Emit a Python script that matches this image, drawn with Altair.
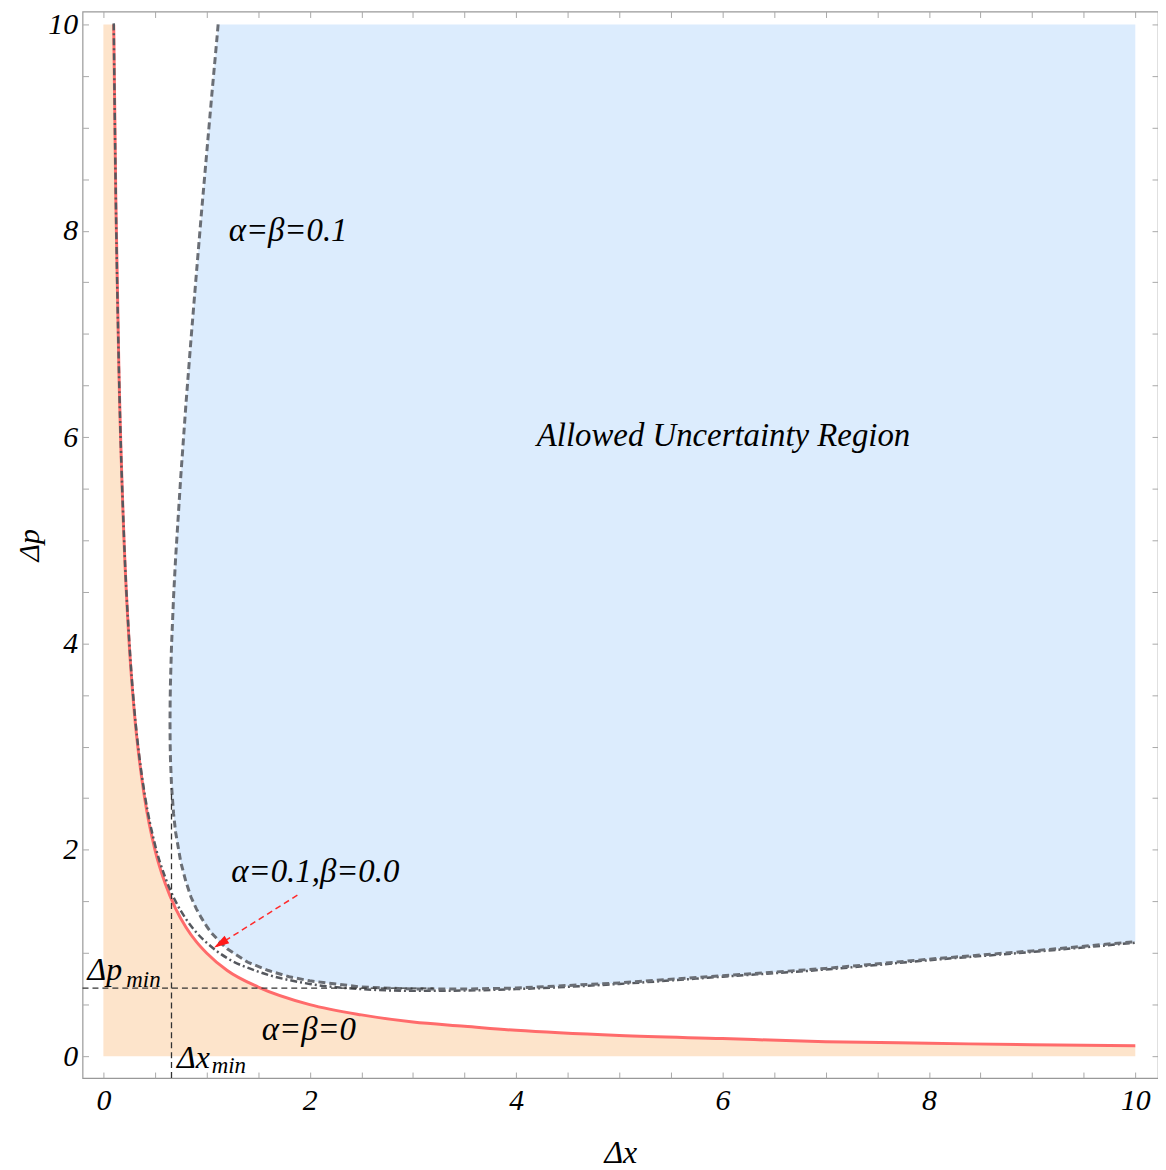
import altair as alt
import pandas as pd

# ---------------- data ----------------
tick_vals = [0, 0.5, 1, 1.5, 2, 2.5, 3, 3.5, 4, 4.5, 5, 5.5, 6, 6.5, 7, 7.5, 8, 8.5, 9, 9.5, 10]
x_domain = [-0.202, 10.22]
y_domain = [-0.212, 10.125]

# alpha = beta = 0 (red)
red_x = [0.1, 0.12, 0.15, 0.2, 0.25, 0.3, 0.35, 0.4, 0.5, 0.6, 0.7, 0.8, 0.9, 1.0, 1.2, 1.5,
         2, 2.5, 3, 3.5, 4, 5, 6, 7, 8, 9, 10]
red_y = [10, 8.33, 6.67, 5, 4, 3.33, 2.86, 2.5, 2, 1.67, 1.43, 1.25, 1.11, 1, 0.83, 0.67,
         0.5, 0.4, 0.33, 0.29, 0.25, 0.2, 0.17, 0.14, 0.125, 0.11, 0.1]

# shaded (forbidden) region under the red curve
orange_x = [0.0] + red_x
orange_y = [10.0] + red_y

# alpha = beta = 0.1 (allowed region boundary)
gup_x = [0.6456, 0.647, 0.65, 0.66, 0.68, 0.7, 0.75, 0.8, 0.85, 0.9, 0.95, 1.0, 1.05, 1.1, 1.112,
         1.2, 1.4, 1.6, 1.8, 2.0, 2.5, 3.0, 3.5, 4, 5, 6, 7, 8, 9, 10]
gup_lo = [3.23, 3.02, 2.88, 2.63, 2.35, 2.17, 1.88, 1.69, 1.54, 1.43, 1.34, 1.26, 1.19, 1.14, 1.12,
          1.04, 0.91, 0.83, 0.77, 0.73, 0.67, 0.65, 0.65, 0.66, 0.71, 0.78, 0.85, 0.94, 1.02, 1.11]
gup_hi = [3.23, 3.45, 3.62, 3.97, 4.45, 4.83, 5.62, 6.32, 6.96, 7.57, 8.17, 8.74, 9.31, 9.86, 10,
          10, 10, 10, 10, 10, 10, 10, 10, 10, 10, 10, 10, 10, 10, 10]
gup_top_x = 1.112  # where the upper branch leaves the plot

# alpha = 0.1, beta = 0.0 (dash-dot)
dd_x = [0.1, 0.12, 0.15, 0.2, 0.25, 0.3, 0.35, 0.4, 0.5, 0.6, 0.7, 0.8, 0.9, 1.0, 1.2, 1.5,
        2, 2.5, 3, 3.5, 4, 5, 6, 7, 8, 9, 10]
dd_y = [10.01, 8.35, 6.68, 5.02, 4.03, 3.36, 2.89, 2.54, 2.05, 1.73, 1.5, 1.33, 1.2, 1.1, 0.95, 0.82,
        0.7, 0.65, 0.633, 0.636, 0.65, 0.7, 0.77, 0.84, 0.93, 1.01, 1.1]

# minimum-uncertainty guide lines
dx_min = 0.66
dp_min = 0.66
vguide_top = 2.6
hguide_right = 3.2

# arrow (tail -> tip)
arrow_x = [1.88, 1.07]
arrow_y = [1.56, 1.05]
arrow_angle = 237.5

# annotations
lab_text = ["α=β=0.1", "Allowed Uncertainty Region", "α=0.1,β=0.0", "α=β=0", "Δp", "min", "Δx", "min"]
lab_x = [1.214, 4.20, 1.24, 1.535, -0.154, 0.222, 0.713, 1.05]
lab_y = [7.90, 5.91, 1.69, 0.157, 0.742, 0.672, -0.118, -0.162]
lab_size = [33, 33, 33, 33, 32, 23, 32, 23]

# ---------------- tables ----------------
df_orange = pd.DataFrame({"x": orange_x, "y": orange_y})
df_red = pd.DataFrame({"x": red_x, "y": red_y})
df_blue = pd.DataFrame({"x": gup_x, "lo": gup_lo, "hi": gup_hi})

bx, by = [], []
for xv, hv in reversed(list(zip(gup_x, gup_hi))):
    if xv <= gup_top_x:
        bx.append(xv); by.append(hv)
for xv, lv in list(zip(gup_x, gup_lo))[1:]:
    bx.append(xv); by.append(lv)
df_bound = pd.DataFrame({"x": bx, "y": by, "i": list(range(len(bx)))})
df_dd = pd.DataFrame({"x": dd_x, "y": dd_y})
df_guides = pd.DataFrame({
    "x": [dx_min, x_domain[0]], "x2": [dx_min, hguide_right],
    "y": [y_domain[0], dp_min], "y2": [vguide_top, dp_min]})
df_arrow = pd.DataFrame({"x": [arrow_x[0]], "y": [arrow_y[0]], "x2": [arrow_x[1]], "y2": [arrow_y[1]]})
df_head = pd.DataFrame({"x": [arrow_x[1]], "y": [arrow_y[1]]})
df_lab = pd.DataFrame({"t": lab_text, "x": lab_x, "y": lab_y, "s": lab_size})

FONT = "Liberation Serif"
xs = alt.Scale(domain=x_domain, nice=False, zero=False)
ys = alt.Scale(domain=y_domain, nice=False, zero=False)
TICK = "#a8a8a8"


def X(f="x", axis=None):
    return alt.X(f, type="quantitative", scale=xs, axis=axis)


def Y(f="y", axis=None):
    return alt.Y(f, type="quantitative", scale=ys, axis=axis)


label_expr = "datum.value % 2 === 0 ? format(datum.value, 'd') : ''"

axis_bottom = alt.Axis(orient="bottom", values=tick_vals, labelExpr=label_expr, offset=-6, tickSize=6,
                       domain=False, grid=False, tickColor=TICK, labelFont=FONT, labelFontStyle="italic",
                       labelFontSize=30, labelColor="black", labelPadding=8, labelFlush=False,
                       labelOverlap=False, title="Δx", titleFont=FONT, titleFontStyle="italic",
                       titleFontSize=32, titleFontWeight="normal", titleColor="black", titlePadding=22)
axis_left = alt.Axis(orient="left", values=tick_vals, labelExpr=label_expr, offset=-6, tickSize=6,
                     domain=False, grid=False, tickColor=TICK, labelFont=FONT, labelFontStyle="italic",
                     labelFontSize=30, labelColor="black", labelPadding=5, labelFlush=False,
                     labelOverlap=False, title="Δp", titleFont=FONT, titleFontStyle="italic",
                     titleFontSize=30, titleFontWeight="normal", titleColor="black", titlePadding=3)
axis_top = alt.Axis(orient="top", values=tick_vals, labels=False, offset=-6, tickSize=6, domain=False,
                    grid=False, tickColor=TICK, title=None)
axis_right = alt.Axis(orient="right", values=tick_vals, labels=False, offset=-6, tickSize=6, domain=False,
                      grid=False, tickColor=TICK, title=None)

orange = alt.Chart(df_orange).mark_area(color="#fde4cb", interpolate="monotone").encode(
    x=X("x", axis_bottom), y=Y("y", axis_left), y2=alt.datum(0))

blue = alt.Chart(df_blue).mark_area(color="#dcecfd", interpolate="monotone").encode(
    x=X(), y=Y("lo"), y2="hi")

frame_ticks = alt.Chart(df_blue).mark_point(opacity=0).encode(
    x=X("x", axis_top), y=Y("lo", axis_right))

red = alt.Chart(df_red).mark_line(color="#ff6b6b", strokeWidth=3, interpolate="monotone").encode(
    x=X(), y=Y())

bound = alt.Chart(df_bound).mark_line(color="#6a6e75", strokeWidth=3, strokeDash=[7, 4]).encode(
    x=X(), y=Y(), order="i:Q")

ddash = alt.Chart(df_dd).mark_line(color="#55585e", strokeWidth=2.5, strokeDash=[7, 3, 2, 3],
                                   interpolate="monotone").encode(x=X(), y=Y())

guides = alt.Chart(df_guides).mark_rule(color="#333333", strokeWidth=1.3, strokeDash=[6, 4]).encode(
    x=X(), x2="x2", y=Y(), y2="y2")

arrow_line = alt.Chart(df_arrow).mark_rule(color="#ff2a2a", strokeWidth=1.5, strokeDash=[6, 4]).encode(
    x=X(), x2="x2", y=Y(), y2="y2")

arrow_head = alt.Chart(df_head).mark_point(
    shape="M0,0L0.45,1.6L-0.45,1.6Z", filled=True, color="#ff1a1a", opacity=1, size=380,
    angle=arrow_angle).encode(x=X(), y=Y())

labels = alt.Chart(df_lab).mark_text(font=FONT, fontStyle="italic", align="left", baseline="alphabetic",
                                     color="black").encode(
    x=X(), y=Y(), text="t:N", size=alt.Size("s:Q", scale=None, legend=None))

chart = alt.layer(
    orange, blue, frame_ticks, red, ddash, bound, guides, arrow_line, arrow_head, labels
).resolve_axis(x="independent", y="independent").properties(
    width=1082, height=1073,
    autosize=alt.AutoSizeParams(type="none"),
    padding={"left": 75, "top": 0, "right": 0, "bottom": 90},
).configure_view(stroke="#999999", strokeWidth=1.2)

chart.save("out.html", embed_options={"renderer": "svg", "actions": False})
